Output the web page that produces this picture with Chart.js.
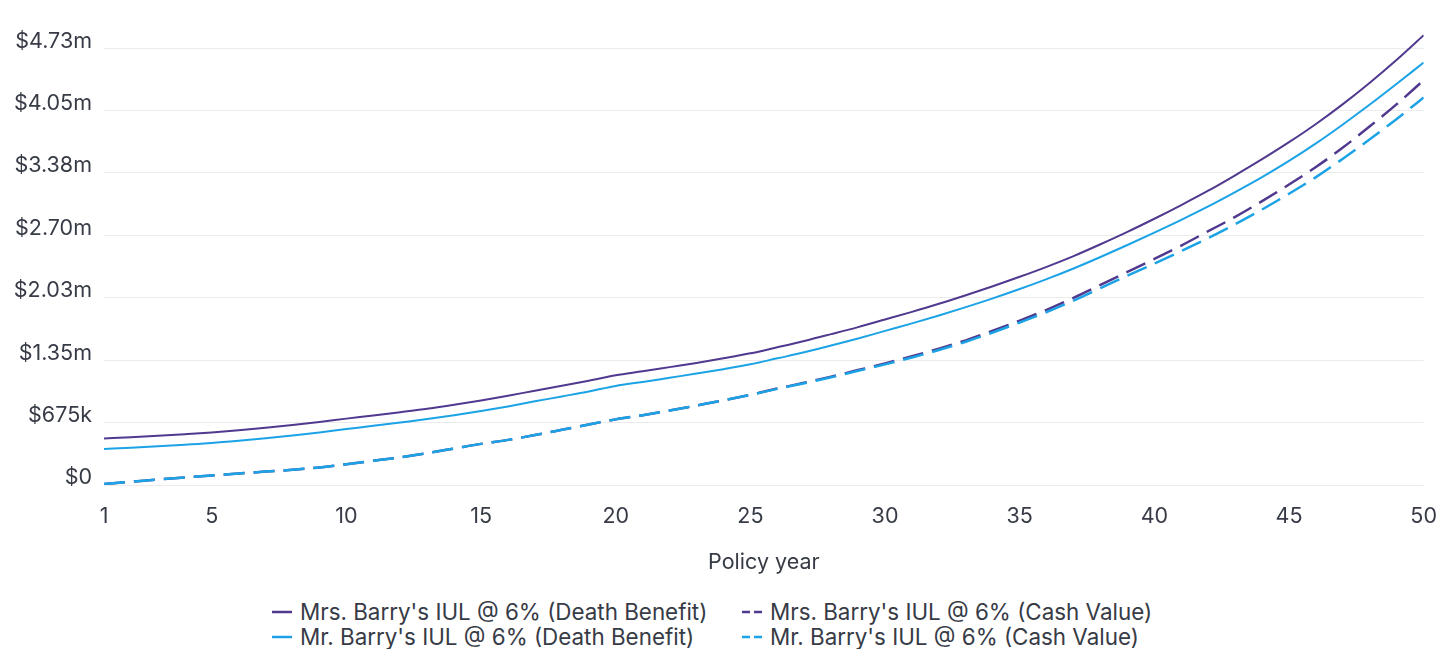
<!DOCTYPE html>
<html lang="en">
<head>
  <meta charset="UTF-8" />
  <title>IUL @ 6% - Death Benefit and Cash Value by Policy Year</title>
  <script src="https://cdn.jsdelivr.net/npm/chart.js"></script>
  <style>
    body {
      margin: 0;
      background: #fff;
      font-family: 'Inter', sans-serif;
      color: #373b46;
    }

    #wrap {
      position: relative;
      width: 1456px;
      height: 585px;
    }

    #legend {
      display: grid;
      grid-template-columns: 470px auto;
      margin: 14px 0 0 272px;
      font-size: 22.4px;
      line-height: 25px;
      color: #373b46;
    }

    .item {
      display: flex;
      align-items: center;
      white-space: nowrap;
    }

    .item svg {
      margin-right: 8px;
    }
  </style>
</head>
<body>
  <div id="wrap"><canvas id="iulChart"></canvas></div>
  <div id="legend"></div>

  <script>
    const years = [
      1, 2, 3, 4, 5, 6, 7, 8, 9, 10,
      11, 12, 13, 14, 15, 16, 17, 18, 19, 20,
      21, 22, 23, 24, 25, 26, 27, 28, 29, 30,
      31, 32, 33, 34, 35, 36, 37, 38, 39, 40,
      41, 42, 43, 44, 45, 46, 47, 48, 49, 50
    ];

    // values in thousands of dollars
    const mrsDeathBenefit = [
      503, 517, 532, 549, 568, 592, 618, 648, 682, 718,
      752, 788, 825, 868, 915, 965, 1020, 1073, 1128, 1187,
      1230, 1275, 1320, 1370, 1424, 1490, 1558, 1632, 1708, 1790,
      1873, 1960, 2053, 2150, 2252, 2360, 2476, 2604, 2738, 2880,
      3028, 3183, 3350, 3524, 3708, 3905, 4120, 4352, 4600, 4865
    ];

    const mrsCashValue = [
      12, 35, 60, 82, 102, 125, 145, 165, 190, 225,
      262, 300, 345, 395, 445, 488, 540, 597, 655, 710,
      755, 805, 860, 915, 975, 1043, 1105, 1172, 1243, 1315,
      1392, 1475, 1565, 1668, 1778, 1895, 2025, 2165, 2305, 2445,
      2590, 2745, 2900, 3070, 3250, 3440, 3650, 3880, 4120, 4379
    ];

    const mrDeathBenefit = [
      390, 404, 419, 436, 454, 478, 505, 535, 569, 605,
      640, 676, 713, 755, 800, 850, 905, 958, 1012, 1072,
      1115, 1160, 1205, 1253, 1305, 1370, 1435, 1508, 1585, 1667,
      1748, 1834, 1924, 2019, 2120, 2227, 2342, 2466, 2596, 2730,
      2868, 3013, 3168, 3330, 3505, 3695, 3900, 4115, 4340, 4570
    ];

    const mrCashValue = [
      12, 35, 60, 82, 102, 125, 145, 165, 190, 225,
      262, 300, 345, 395, 445, 488, 540, 597, 655, 710,
      755, 805, 860, 915, 975, 1040, 1100, 1165, 1235, 1305,
      1380, 1460, 1550, 1650, 1758, 1870, 1995, 2130, 2265, 2395,
      2530, 2670, 2820, 2980, 3150, 3330, 3530, 3740, 3960, 4192
    ];

    const xTicks = [1, 5, 10, 15, 20, 25, 30, 35, 40, 45, 50];
    const yTicks = [0, 675000, 1350000, 2025000, 2700000, 3375000, 4050000, 4725000];

    const PURPLE = '#51398f';
    const BLUE = '#1ba3e6';
    const INK = '#373b46';

    function money(v) {
      if (v === 0) return '$0';
      if (v < 1000000) return '$' + Math.round(v / 1000) + 'k';
      return '$' + (Math.round(v / 10000) / 100).toFixed(2) + 'm';
    }

    function series(label, values, color, dashed, order) {
      return {
        label: label,
        data: years.map((y, i) => ({ x: y, y: values[i] * 1000 })),
        borderColor: color,
        backgroundColor: color,
        borderWidth: dashed ? 2.5 : 2,
        borderDash: dashed ? [21, 9] : [],
        pointRadius: 0,
        pointHoverRadius: 0,
        cubicInterpolationMode: 'monotone',
        fill: false,
        order: order
      };
    }

    const datasets = [
      series("Mrs. Barry's IUL @ 6% (Death Benefit)", mrsDeathBenefit, PURPLE, false, 3),
      series("Mrs. Barry's IUL @ 6% (Cash Value)", mrsCashValue, PURPLE, true, 2),
      series("Mr. Barry's IUL @ 6% (Death Benefit)", mrDeathBenefit, BLUE, false, 1),
      series("Mr. Barry's IUL @ 6% (Cash Value)", mrCashValue, BLUE, true, 0)
    ];

    const chart = new Chart(document.getElementById('iulChart'), {
      type: 'line',
      data: { datasets: datasets },
      options: {
        responsive: true,
        maintainAspectRatio: false,
        animation: false,
        layout: { padding: { top: 32, right: 30, left: 0, bottom: 0 } },
        plugins: {
          legend: { display: false },
          tooltip: { enabled: false }
        },
        scales: {
          x: {
            type: 'linear',
            min: 1,
            max: 50,
            afterBuildTicks: scale => {
              scale.ticks = xTicks.map(v => ({ value: v }));
            },
            afterFit: scale => { scale.height = 100; },
            grid: { display: false, drawTicks: false },
            border: { display: false },
            ticks: {
              autoSkip: false,
              maxRotation: 0,
              padding: 19,
              color: INK,
              font: { family: 'Inter', size: 21.5 }
            },
            title: {
              display: true,
              text: 'Policy year',
              color: INK,
              font: { family: 'Inter', size: 21.5 },
              padding: { top: 0, bottom: 10 }
            }
          },
          y: {
            min: 0,
            max: 4900000,
            afterBuildTicks: scale => {
              scale.ticks = yTicks.map(v => ({ value: v }));
            },
            afterFit: scale => { scale.width = 104; },
            grid: { color: '#ebebeb', lineWidth: 1, drawTicks: false },
            border: { display: false },
            ticks: {
              padding: 12,
              labelOffset: -7,
              color: INK,
              font: { family: 'Inter', size: 21.5 },
              callback: v => money(v)
            }
          }
        }
      }
    });

    // html legend laid out in two aligned columns
    const legend = document.getElementById('legend');
    chart.data.datasets.forEach(ds => {
      const dash = ds.borderDash.length ? 'stroke-dasharray="8 4"' : '';
      const item = document.createElement('div');
      item.className = 'item';
      item.innerHTML =
        '<svg width="20" height="6"><line x1="0" y1="3" x2="20" y2="3" stroke="' + ds.borderColor +
        '" stroke-width="2.5" ' + dash + '/></svg><span>' + ds.label + '</span>';
      legend.appendChild(item);
    });
  </script>
</body>
</html>
